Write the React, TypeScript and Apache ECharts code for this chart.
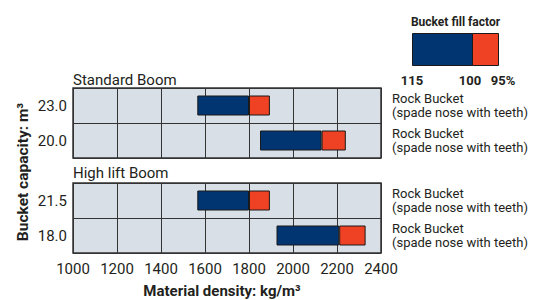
import React, { useEffect, useRef } from "react";
import * as echarts from "echarts";

const rowsStandard = ["23.0", "20.0"];
const rowsHighLift = ["21.5", "18.0"];
const bucketLabels = ["Rock Bucket\n(spade nose with teeth)", "Rock Bucket\n(spade nose with teeth)"];
// density at 115% fill, 100% fill, 95% fill
const stdLow = [1565, 1850];
const stdMid = [1800, 2130];
const stdHigh = [1895, 2240];
const hlLow = [1565, 1925];
const hlMid = [1800, 2210];
const hlHigh = [1895, 2330];
const legendTicks = ["115", "100", "95%"];

const FONT = "Roboto, 'Liberation Sans', sans-serif";
const NARROW = "'Liberation Sans Narrow', 'Arial Narrow', Roboto, sans-serif";
const TXT = "#231f20";
const BLUE = "#003572";
const RED = "#ef4123";
const BG = "#d8dfe6";
const LINE = "#333333";

export default function App() {
  const ref = useRef<HTMLDivElement>(null);
  useEffect(() => {
    const chart = echarts.init(ref.current!, undefined, { renderer: "svg" });
    const grids = [
      { left: 73, right: 154, top: 88, height: 70 },
      { left: 73, right: 154, top: 183, height: 70 },
    ];
    const xAxes = [0, 1].map((i) => ({
      type: "value",
      gridIndex: i,
      min: 1000,
      max: 2400,
      interval: 200,
      axisLine: { show: false },
      axisTick: { show: false },
      axisLabel: {
        show: i === 1,
        fontFamily: FONT,
        fontSize: 15,
        color: TXT,
        margin: 8,
        formatter: (v: number) => String(v),
      },
      splitLine: { show: true, lineStyle: { color: LINE, width: 1 } },
    }));
    const yAxes: any[] = [];
    [rowsStandard, rowsHighLift].forEach((rows, i) => {
      yAxes.push({
        type: "category",
        gridIndex: i,
        data: rows,
        inverse: true,
        axisLine: { show: false },
        axisTick: { show: false },
        axisLabel: { fontFamily: FONT, fontSize: 15, color: TXT, margin: 6 },
        splitLine: { show: true, lineStyle: { color: LINE, width: 1 } },
      });
      yAxes.push({
        type: "category",
        gridIndex: i,
        position: "right",
        data: bucketLabels,
        inverse: true,
        axisLine: { show: false },
        axisTick: { show: false },
        axisLabel: {
          fontFamily: FONT,
          fontSize: 13,
          color: TXT,
          margin: 11,
          lineHeight: 14,
          align: "left",
        },
      });
    });
    const series: any[] = [];
    const sets = [
      [stdLow, stdMid, stdHigh],
      [hlLow, hlMid, hlHigh],
    ];
    sets.forEach(([low, mid, high], i) => {
      const stack = "s" + i;
      const common = {
        type: "bar",
        xAxisIndex: i,
        yAxisIndex: i * 2,
        stack,
        barWidth: 20,
      };
      series.push({ ...common, data: low, itemStyle: { color: "transparent" }, silent: true });
      series.push({
        ...common,
        data: mid.map((v, k) => v - low[k]),
        itemStyle: { color: BLUE, borderColor: "#1a1a1a", borderWidth: 1 },
      });
      series.push({
        ...common,
        data: high.map((v, k) => v - mid[k]),
        itemStyle: { color: RED, borderColor: "#1a1a1a", borderWidth: 1 },
      });
    });
    chart.setOption({
      animation: false,
      grid: grids.map((g) => ({ ...g, show: true, backgroundColor: BG, borderColor: LINE, borderWidth: 1.5 })),
      xAxis: xAxes,
      yAxis: yAxes,
      series,
      graphic: [
        { type: "text", x: 73, y: 80, style: { text: "Standard Boom", fontFamily: FONT, fontSize: 15, fill: TXT, verticalAlign: "middle" } },
        { type: "text", x: 73, y: 173, style: { text: "High lift Boom", fontFamily: FONT, fontSize: 15, fill: TXT, verticalAlign: "middle" } },
        {
          type: "text",
          x: 222,
          y: 291,
          style: { text: "Material density: kg/m³", fontFamily: FONT, fontSize: 15, fontWeight: "bold", fill: TXT, align: "center", verticalAlign: "middle" },
        },
        {
          type: "text",
          x: 23,
          y: 172,
          rotation: Math.PI / 2,
          style: { text: "Bucket capacity: m³", fontFamily: FONT, fontSize: 15.5, fontWeight: "bold", fill: TXT, align: "center", verticalAlign: "middle" },
        },
        {
          type: "text",
          x: 455.5,
          y: 22,
          style: { text: "Bucket fill factor", fontFamily: NARROW, fontSize: 12, fontWeight: "bold", fill: TXT, align: "center", verticalAlign: "middle" },
        },
        { type: "rect", shape: { x: 412.5, y: 33.5, width: 60, height: 32 }, style: { fill: BLUE, stroke: "#1a1a1a", lineWidth: 1 } },
        { type: "rect", shape: { x: 472.5, y: 33.5, width: 26, height: 32 }, style: { fill: RED, stroke: "#1a1a1a", lineWidth: 1 } },
        { type: "text", x: 412, y: 80, style: { text: legendTicks[0], fontFamily: NARROW, fontSize: 13, fontWeight: "bold", fill: TXT, align: "center", verticalAlign: "middle" } },
        { type: "text", x: 470, y: 80, style: { text: legendTicks[1], fontFamily: NARROW, fontSize: 13, fontWeight: "bold", fill: TXT, align: "center", verticalAlign: "middle" } },
        { type: "text", x: 503, y: 80, style: { text: legendTicks[2], fontFamily: NARROW, fontSize: 13, fontWeight: "bold", fill: TXT, align: "center", verticalAlign: "middle" } },
      ],
    });
    return () => chart.dispose();
  }, []);
  return <div ref={ref} style={{ width: 535, height: 300, position: "absolute", left: 0, top: 0 }} />;
}
